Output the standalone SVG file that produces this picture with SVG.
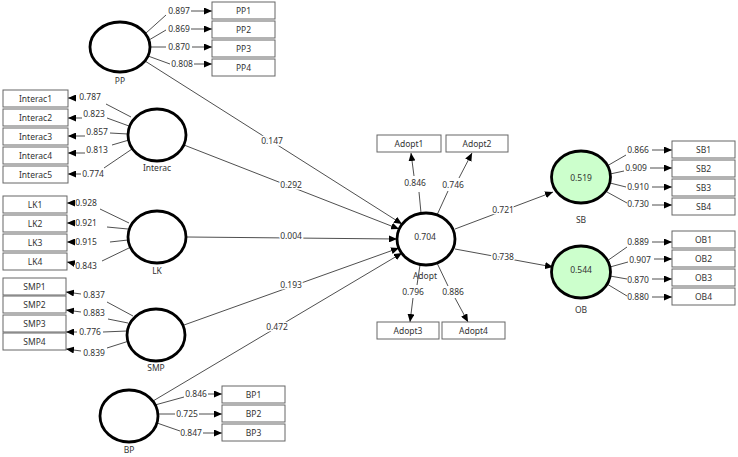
<svg xmlns="http://www.w3.org/2000/svg" width="738" height="457" viewBox="0 0 738 457">
<style>
text{font-family:"Noto Sans","Open Sans","DejaVu Sans",sans-serif;font-size:8.5px;fill:#333;text-anchor:middle}
.lbl{paint-order:stroke;stroke:#fff;stroke-width:3px}
.box{fill:#fff;stroke:#666;stroke-width:1}
.lv{fill:#fff;stroke:#000;stroke-width:2.8}
.g{fill:#ccffcc}
.ln{stroke:#222;stroke-width:0.8;fill:none}
.ar{stroke:#222;stroke-width:0.8;fill:none;marker-end:url(#ah)}
</style>
<defs>
<marker id="ah" markerUnits="userSpaceOnUse" markerWidth="8" markerHeight="7" refX="8" refY="3.5" orient="auto">
<path d="M0,0 L8,3.5 L0,7 z" fill="#000"/>
</marker>
</defs>
<g id="connectors">
<line class="ar" x1="145" y1="61" x2="402" y2="224"/>
<line class="ar" x1="184" y1="145" x2="399" y2="229"/>
<line class="ar" x1="187" y1="237" x2="397" y2="239"/>
<line class="ar" x1="184" y1="325" x2="399" y2="248"/>
<line class="ar" x1="153" y1="401" x2="402" y2="253"/>
<line class="ar" x1="455" y1="229" x2="553" y2="192"/>
<line class="ar" x1="455" y1="249" x2="553" y2="267"/>
<text class="lbl" x="272" y="144">0.147</text>
<text class="lbl" x="291" y="188">0.292</text>
<text class="lbl" x="291" y="239">0.004</text>
<text class="lbl" x="291" y="288">0.193</text>
<text class="lbl" x="277" y="330">0.472</text>
<text class="lbl" x="503" y="213">0.721</text>
<text class="lbl" x="503" y="260">0.738</text>
<!-- PP indicators -->
<line class="ln" x1="146" y1="33" x2="166" y2="15"/><line class="ar" x1="191" y1="11" x2="212" y2="11"/>
<line class="ln" x1="149" y1="40" x2="166" y2="30"/><line class="ar" x1="191" y1="29" x2="212" y2="29"/>
<line class="ln" x1="150" y1="47" x2="166" y2="47"/><line class="ar" x1="192" y1="47" x2="212" y2="47"/>
<line class="ln" x1="148" y1="56" x2="170" y2="64"/><line class="ar" x1="194" y1="64" x2="212" y2="64"/>
<!-- Interac indicators -->
<line class="ar" x1="75" y1="98" x2="68" y2="98"/><line class="ln" x1="106" y1="104" x2="131" y2="117"/>
<line class="ar" x1="82" y1="118" x2="68" y2="118"/><line class="ln" x1="107" y1="118" x2="129" y2="126"/>
<line class="ar" x1="85" y1="136" x2="68" y2="136"/><line class="ln" x1="110" y1="133" x2="128" y2="134"/>
<line class="ar" x1="85" y1="153" x2="68" y2="153"/><line class="ln" x1="112" y1="145" x2="129" y2="140"/>
<line class="ar" x1="81" y1="174" x2="68" y2="174"/><line class="ln" x1="104" y1="168" x2="135" y2="147"/>
<!-- LK indicators -->
<line class="ar" x1="74" y1="203" x2="67" y2="203"/><line class="ln" x1="100" y1="209" x2="129" y2="223"/>
<line class="ar" x1="74" y1="223" x2="67" y2="223"/><line class="ln" x1="107" y1="227" x2="128" y2="229"/>
<line class="ar" x1="74" y1="242" x2="67" y2="242"/><line class="ln" x1="110" y1="242" x2="128" y2="240"/>
<line class="ar" x1="72" y1="263" x2="67" y2="262"/><line class="ln" x1="102" y1="261" x2="131" y2="247"/>
<!-- SMP indicators -->
<line class="ar" x1="81" y1="294" x2="66" y2="292"/><line class="ln" x1="107" y1="302" x2="133" y2="316"/>
<line class="ar" x1="81" y1="312" x2="66" y2="310"/><line class="ln" x1="108" y1="319" x2="128" y2="323"/>
<line class="ar" x1="77" y1="332" x2="66" y2="332"/><line class="ln" x1="103" y1="332" x2="127" y2="331"/>
<line class="ar" x1="81" y1="351" x2="66" y2="349"/><line class="ln" x1="107" y1="348" x2="129" y2="341"/>
<!-- BP indicators -->
<line class="ln" x1="155" y1="405" x2="184" y2="397"/><line class="ar" x1="208" y1="394" x2="222" y2="394"/>
<line class="ln" x1="159" y1="414" x2="175" y2="414"/><line class="ar" x1="199" y1="414" x2="222" y2="414"/>
<line class="ln" x1="157" y1="423" x2="180" y2="431"/><line class="ar" x1="203" y1="433" x2="222" y2="433"/>
<!-- Adopt indicators -->
<line class="ln" x1="421" y1="213" x2="419" y2="192"/><line class="ar" x1="414" y1="176" x2="411" y2="153"/>
<line class="ln" x1="437" y1="215" x2="448" y2="191"/><line class="ar" x1="459" y1="178" x2="472" y2="153"/>
<line class="ln" x1="420" y1="265" x2="417" y2="285"/><line class="ar" x1="413" y1="298" x2="410" y2="322"/>
<line class="ln" x1="437" y1="263" x2="448" y2="286"/><line class="ar" x1="455" y1="298" x2="468" y2="322"/>
<!-- SB indicators -->
<line class="ln" x1="607" y1="166" x2="626" y2="155"/><line class="ar" x1="652" y1="150" x2="672" y2="150"/>
<line class="ln" x1="610" y1="174" x2="624" y2="171"/><line class="ar" x1="650" y1="168" x2="672" y2="168"/>
<line class="ln" x1="610" y1="183" x2="626" y2="187"/><line class="ar" x1="652" y1="187" x2="672" y2="187"/>
<line class="ln" x1="607" y1="192" x2="627" y2="203"/><line class="ar" x1="652" y1="205" x2="672" y2="205"/>
<!-- OB indicators -->
<line class="ln" x1="607" y1="261" x2="627" y2="247"/><line class="ar" x1="652" y1="242" x2="672" y2="242"/>
<line class="ln" x1="610" y1="267" x2="628" y2="262"/><line class="ar" x1="654" y1="259" x2="672" y2="259"/>
<line class="ln" x1="610" y1="276" x2="627" y2="279"/><line class="ar" x1="652" y1="279" x2="672" y2="279"/>
<line class="ln" x1="607" y1="284" x2="627" y2="296"/><line class="ar" x1="652" y1="297" x2="672" y2="297"/>
<!-- indicator loadings -->
<text x="179" y="14">0.897</text><text x="179" y="32">0.869</text><text x="179" y="50">0.870</text><text x="182" y="67">0.808</text>
<text x="90" y="100">0.787</text><text x="94" y="117">0.823</text><text x="97" y="135">0.857</text><text x="97" y="153">0.813</text><text x="93" y="177">0.774</text>
<text x="86" y="206">0.928</text><text x="86" y="226">0.921</text><text x="86" y="245">0.915</text><text x="86" y="269">0.843</text>
<text x="94" y="298">0.837</text><text x="94" y="316">0.883</text><text x="90" y="335">0.776</text><text x="94" y="356">0.839</text>
<text x="196" y="397">0.846</text><text x="187" y="417">0.725</text><text x="191" y="436">0.847</text>
<text x="415" y="186">0.846</text><text x="453" y="188">0.746</text><text x="413" y="295">0.796</text><text x="453" y="295">0.886</text>
<text x="638" y="153">0.866</text><text x="636" y="171">0.909</text><text x="638" y="190">0.910</text><text x="638" y="207">0.730</text>
<text x="638" y="245">0.889</text><text x="640" y="263">0.907</text><text x="638" y="283">0.870</text><text x="638" y="300">0.880</text>
</g>
<g id="PP">
<ellipse class="lv" cx="120" cy="47" rx="30" ry="25"/><text x="120" y="84">PP</text>
<rect class="box" x="212" y="2" width="63" height="17"/><text x="243.5" y="14">PP1</text>
<rect class="box" x="212" y="21" width="63" height="17"/><text x="243.5" y="33">PP2</text>
<rect class="box" x="212" y="40" width="63" height="17"/><text x="243.5" y="52">PP3</text>
<rect class="box" x="212" y="59" width="63" height="17"/><text x="243.5" y="71">PP4</text>
</g>
<g id="Interac">
<ellipse class="lv" cx="157" cy="135" rx="29" ry="26"/><text x="157" y="171">Interac</text>
<rect class="box" x="3" y="90" width="65" height="17"/><text x="35.5" y="102">Interac1</text>
<rect class="box" x="3" y="109" width="65" height="17"/><text x="35.5" y="121">Interac2</text>
<rect class="box" x="3" y="128" width="65" height="17"/><text x="35.5" y="140">Interac3</text>
<rect class="box" x="3" y="147" width="65" height="17"/><text x="35.5" y="159">Interac4</text>
<rect class="box" x="3" y="166" width="65" height="17"/><text x="35.5" y="178">Interac5</text>
</g>
<g id="LK">
<ellipse class="lv" cx="157" cy="237" rx="29" ry="26"/><text x="157" y="274">LK</text>
<rect class="box" x="3" y="196" width="64" height="17"/><text x="35" y="208">LK1</text>
<rect class="box" x="3" y="215" width="64" height="17"/><text x="35" y="227">LK2</text>
<rect class="box" x="3" y="234" width="64" height="17"/><text x="35" y="246">LK3</text>
<rect class="box" x="3" y="253" width="64" height="17"/><text x="35" y="265">LK4</text>
</g>
<g id="SMP">
<ellipse class="lv" cx="156" cy="335" rx="29" ry="26"/><text x="156" y="371">SMP</text>
<rect class="box" x="3" y="278" width="63" height="17"/><text x="34.5" y="290">SMP1</text>
<rect class="box" x="3" y="296" width="63" height="17"/><text x="34.5" y="308">SMP2</text>
<rect class="box" x="3" y="315" width="63" height="17"/><text x="34.5" y="327">SMP3</text>
<rect class="box" x="3" y="333" width="63" height="17"/><text x="34.5" y="345">SMP4</text>
</g>
<g id="BP">
<ellipse class="lv" cx="129" cy="416" rx="29" ry="26"/><text x="129" y="453">BP</text>
<rect class="box" x="222" y="386" width="63" height="17"/><text x="253.5" y="398">BP1</text>
<rect class="box" x="222" y="405" width="63" height="17"/><text x="253.5" y="417">BP2</text>
<rect class="box" x="222" y="424" width="63" height="17"/><text x="253.5" y="436">BP3</text>
</g>
<g id="Adopt">
<ellipse class="lv" cx="426" cy="239" rx="29" ry="26"/><text x="425" y="240">0.704</text><text x="425" y="279">Adopt</text>
<rect class="box" x="377" y="135" width="64" height="17"/><text x="409" y="147">Adopt1</text>
<rect class="box" x="446" y="135" width="62" height="17"/><text x="477" y="147">Adopt2</text>
<rect class="box" x="377" y="322" width="62" height="17"/><text x="408" y="334">Adopt3</text>
<rect class="box" x="442" y="322" width="63" height="17"/><text x="473.5" y="334">Adopt4</text>
</g>
<g id="SB">
<ellipse class="lv g" cx="581" cy="177" rx="29.5" ry="26"/><text x="581" y="181">0.519</text><text x="581" y="223">SB</text>
<rect class="box" x="672" y="141" width="63" height="17"/><text x="703.5" y="153">SB1</text>
<rect class="box" x="672" y="160" width="63" height="17"/><text x="703.5" y="172">SB2</text>
<rect class="box" x="672" y="179" width="63" height="17"/><text x="703.5" y="191">SB3</text>
<rect class="box" x="672" y="198" width="63" height="17"/><text x="703.5" y="210">SB4</text>
</g>
<g id="OB">
<ellipse class="lv g" cx="581" cy="272" rx="29.5" ry="26"/><text x="581" y="273">0.544</text><text x="581" y="313">OB</text>
<rect class="box" x="672" y="231" width="63" height="17"/><text x="703.5" y="243">OB1</text>
<rect class="box" x="672" y="250" width="63" height="17"/><text x="703.5" y="262">OB2</text>
<rect class="box" x="672" y="269" width="63" height="17"/><text x="703.5" y="281">OB3</text>
<rect class="box" x="672" y="288" width="63" height="17"/><text x="703.5" y="300">OB4</text>
</g>
</svg>
